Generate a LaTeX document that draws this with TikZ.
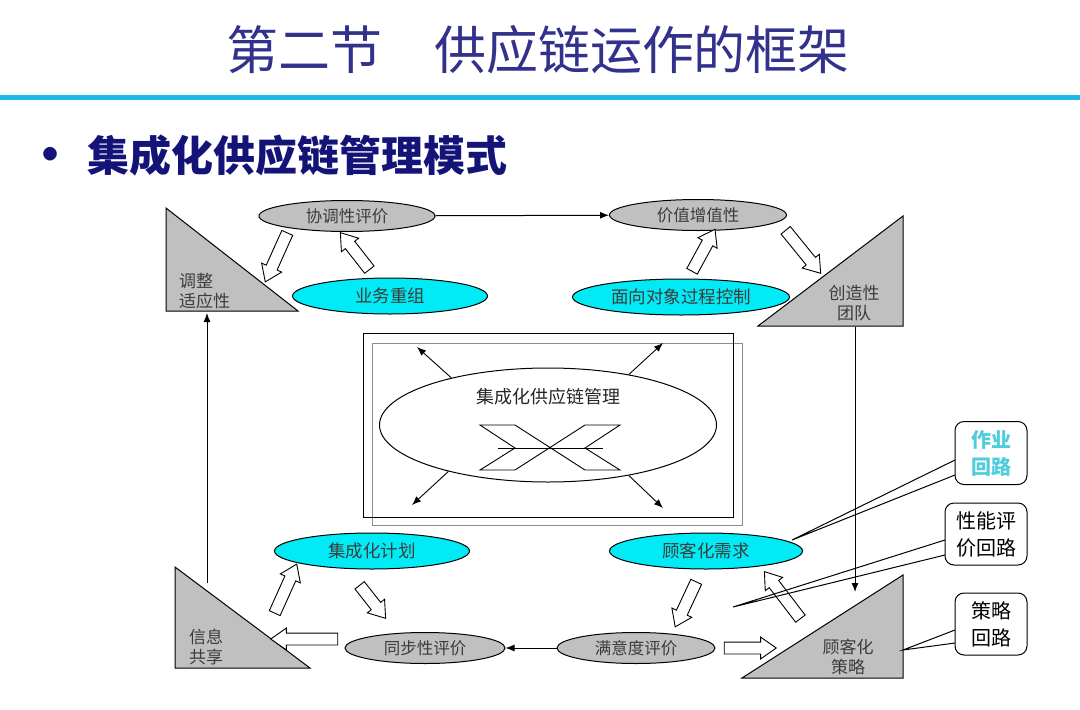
\documentclass[tikz,border=0pt]{standalone}
\usepackage{fontspec}
\setmainfont{Noto Sans CJK SC}
\usepackage{xcolor}
\usetikzlibrary{arrows.meta,shapes.geometric,shapes.arrows,calc}
\definecolor{titleblue}{RGB}{50,50,140}
\definecolor{navy}{RGB}{20,20,120}
\definecolor{rulecyan}{RGB}{30,185,230}
\definecolor{ovalcyan}{RGB}{0,235,245}
\definecolor{shade}{RGB}{192,192,192}
\definecolor{txtgray}{RGB}{60,60,60}
\definecolor{loopcyan}{RGB}{80,205,220}
\newcommand{\blockarr}[2]{\path let \p1=($(#2)-(#1)$), \n1={atan2(\y1,\x1)}, \n2={veclen(\x1,\y1)} in node[hollow,rotate=\n1,minimum height=\n2] at ($(#1)!0.5!(#2)$) {};}

\begin{document}
\begin{tikzpicture}[x=1pt,y=-1pt,>={Latex[length=9pt,width=7pt]},
    oval/.style={ellipse,draw,line width=1pt,inner sep=0pt,text=txtgray},
    grayoval/.style={oval,fill=shade,minimum height=31pt,font=\fontsize{16.5}{18}\selectfont},
    cyanoval/.style={oval,fill=ovalcyan,minimum height=36pt,font=\fontsize{17.5}{19}\selectfont},
    hollow/.style={single arrow,draw,fill=white,line width=0.9pt,inner sep=5.5pt,single arrow head extend=5pt,single arrow tip angle=70},
    tri/.style={draw,fill=shade,line width=1pt},
    trilabel/.style={text=txtgray,font=\fontsize{17}{20}\selectfont,inner sep=0pt},
    loopbox/.style={draw,rounded corners=9pt,fill=white,line width=1pt,align=center,inner sep=0pt,font=\fontsize{20}{27}\selectfont}]
  \useasboundingbox (0,0) rectangle (1080,710);
  \node (title) [text=titleblue,font=\fontsize{52}{56}\selectfont] at (538,50) {第二节　供应链运作的框架};
  \draw[rulecyan,line width=5pt] (0,97) -- (1080,97);
  \node (bullet) [text=navy,font=\fontsize{64}{66}\selectfont,inner sep=0pt] at (50,163) {•};
  \node (subtitle) [anchor=west,text=navy,font=\fontsize{42}{46}\selectfont\bfseries] at (84,155) {集成化供应链管理模式};

  \draw[tri] (166,208) -- (166,311) -- (298,311) -- cycle;
  \draw[tri] (758,326) -- (903,326) -- (903,216) -- cycle;
  \draw[tri] (175,567) -- (175,668) -- (310,668) -- cycle;
  \draw[tri] (742,678) -- (903,678) -- (903,575) -- cycle;
  \node (adjust) [trilabel,align=left,anchor=west] at (179,291) {调整\\适应性};
  \node (team) [trilabel,align=center] at (854,303) {创造性\\团队};
  \node (share) [trilabel,align=left,anchor=west] at (189,647) {信息\\共享};
  \node (custstrat) [trilabel,align=center] at (848,657) {顾客化\\策略};

  \node (coord) [grayoval,minimum width=176pt] at (347,216) {协调性评价};
  \node (value) [grayoval,minimum width=177pt] at (698,215) {价值增值性};
  \node (reorg) [cyanoval,minimum width=195pt] at (390,296) {业务重组};
  \node (procctl) [cyanoval,minimum width=217pt] at (681,297) {面向对象过程控制};
  \node (plan) [cyanoval,minimum width=195pt] at (372,551) {集成化计划};
  \node (demand) [cyanoval,minimum width=193pt] at (706,551) {顾客化需求};
  \node (sync) [grayoval,minimum width=160pt] at (425,648) {同步性评价};
  \node (satis) [grayoval,minimum width=158pt] at (636,648) {满意度评价};
  \draw[->,line width=1pt] (coord) -- (value);
  \draw[->,line width=1pt] (satis) -- (sync);

  \draw[black!45,line width=1pt] (372,343) rectangle (742,525);
  \node (frame) [draw,line width=1pt,minimum width=370pt,minimum height=184pt,inner sep=0pt] at (548,425) {};
  \node (core) [ellipse,draw,line width=1pt,minimum width=337pt,minimum height=114pt] at (548,425) {};
  \node (coretext) [text=black!85,font=\fontsize{18}{20}\selectfont] at (548,397) {集成化供应链管理};
  \draw[line width=0.9pt] (480,425) -- (515,425) -- (585,470) -- (620,470) -- (585,448) -- (620,425)
    -- (585,425) -- (515,470) -- (480,470) -- (515,448) -- cycle;
  \draw[line width=0.9pt] (498,448) -- (603,448);
  \coordinate (ul) at (417,347); \coordinate (ur) at (663,343);
  \coordinate (ll) at (412,505); \coordinate (lr) at (663,508);
  \draw[->,line width=0.9pt] (core.154) -- (ul);
  \draw[->,line width=0.9pt] (core.32) -- (ur);
  \draw[->,line width=0.9pt] (core.205) -- (ll);
  \draw[->,line width=0.9pt] (core.328) -- (lr);

  \coordinate (teamfoot) at (855,327); \coordinate (strattop) at (855,592);
  \coordinate (sharetop) at (207,583); \coordinate (adjfoot) at (207,313);
  \draw[->,line width=1pt] (teamfoot) -- (strattop);
  \draw[->,line width=1pt] (sharetop) -- (adjfoot);

  \coordinate (a1) at (289,229); \coordinate (b1) at (267,278);
  \coordinate (a2) at (372,273); \coordinate (b2) at (343,236);
  \coordinate (a3) at (690,275); \coordinate (b3) at (713,233);
  \coordinate (a4) at (783,227); \coordinate (b4) at (818,270);
  \coordinate (a5) at (273,617); \coordinate (b5) at (295,568);
  \coordinate (a6) at (357,582); \coordinate (b6) at (383,615);
  \coordinate (a7) at (342,639); \coordinate (b7) at (275,639);
  \coordinate (a8) at (698,578); \coordinate (b8) at (677,623);
  \coordinate (a9) at (720,648); \coordinate (b9) at (772,648);
  \coordinate (a10) at (803,622); \coordinate (b10) at (767,575);
  \foreach \i in {1,...,10} {\blockarr{a\i}{b\i}}

  \coordinate (optip) at (792,540);
  \coordinate (perftip) at (733,607);
  \coordinate (strattip) at (903,650);
  \draw[line width=1pt] (955,460) -- (optip) -- (955,475);
  \draw[line width=1pt] (945,540) -- (perftip) -- (945,555);
  \draw[line width=1pt] (955,630) -- (strattip) -- (955,643);
  \node (oploop) [loopbox,minimum width=72pt,minimum height=63pt,text=loopcyan] at (991,453) {\bfseries 作业\\\bfseries 回路};
  \node (perfloop) [loopbox,minimum width=82pt,minimum height=62pt] at (986,534) {性能评\\价回路};
  \node (stratloop) [loopbox,minimum width=72pt,minimum height=62pt] at (991,624) {策略\\回路};
\end{tikzpicture}
\end{document}
